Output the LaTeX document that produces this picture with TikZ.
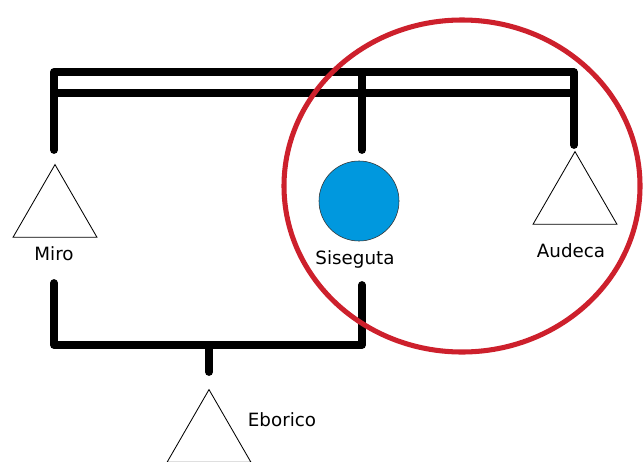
\documentclass[tikz,border=0pt]{standalone}
\usepackage{fontspec}
\setmainfont{DejaVu Sans}
\usetikzlibrary{shapes.geometric}
\definecolor{ringred}{RGB}{205,32,44}
\definecolor{fillblue}{RGB}{0,152,222}
\begin{document}
\begin{tikzpicture}[x=0.025cm, y=-0.025cm, every node/.style={font=\fontsize{13}{15}\selectfont},
  bar/.style={line width=5.5pt,line cap=round,line join=round},
  male/.style={draw,regular polygon,regular polygon sides=3,minimum size=2.42cm,inner sep=0pt,semithick},
  female/.style={draw=black!80,circle,fill=fillblue,minimum size=2cm,inner sep=0pt,thin},
  ring/.style={draw=ringred,line width=3.6pt}]
\useasboundingbox (0,0) rectangle (643,461);
\clip (0,0) rectangle (643,461);
% persons
\node[male] (miro) at (55,213) {};
\node[female] (sise) at (359,201) {};
\node[male] (audeca) at (575,200) {};
\node[male] (ebor) at (209,438) {};
\node (mirolbl) at (54,254) {Miro};
\node (siselbl) at (355,259) {Siseguta};
\node (audlbl) at (571,251) {Audeca};
\node (eborlbl) at (282,420) {Eborico};
% junction points
\coordinate (mup) at (54,150);
\coordinate (sup) at (362,150);
\coordinate (aup) at (574,145);
\coordinate (top) at (362,72);
\coordinate (m2) at (54,93);
\coordinate (a2) at (574,93);
\coordinate (mdown) at (54,283);
\coordinate (sdown) at (362,285);
\coordinate (join) at (209,345);
\coordinate (edown) at (209,372);
% marriage lines
\draw[bar] (mup) |- (top) -| (aup);
\draw[bar] (m2) -- (a2);
\draw[bar] (top) -- (sup);
\draw[bar] (mdown) |- (join) -| (sdown);
\draw[bar] (join) -- (edown);
% highlight
\draw[ring] (462,186) ellipse [x radius=178, y radius=166];
\end{tikzpicture}
\end{document}
